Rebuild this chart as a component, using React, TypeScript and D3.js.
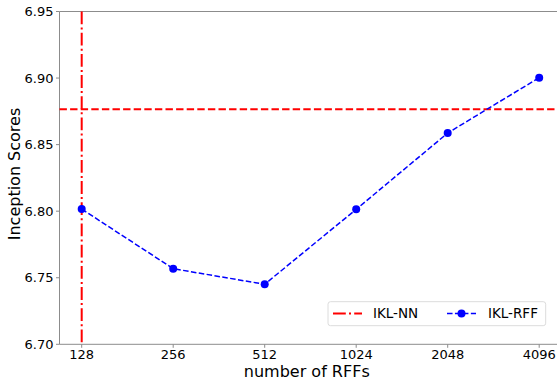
import React from "react";
import * as d3 from "d3";

const categories = ["128", "256", "512", "1024", "2048", "4096"];
const rffScores = [6.8016, 6.7568, 6.7451, 6.8014, 6.8587, 6.9003];
const nnScore = 6.8765;
const yTicks = [6.7, 6.75, 6.8, 6.85, 6.9, 6.95];

const W = 557, H = 381;
const left = 59.5, top = 11.5, bottom = 344.3;
const step = 91.5;
const x0 = 81.7;

export default function App() {
  const x = d3.scaleLinear().domain([0, 5]).range([x0, x0 + 5 * step]);
  const y = d3.scaleLinear().domain([6.7, 6.95]).range([bottom, top]);
  const right = x(5.25);
  const line = d3.line<number>().x((_, i) => x(i)).y((d) => y(d));
  const font = "DejaVu Sans, sans-serif";
  return (
    <svg width={W} height={H} style={{ position: "absolute", left: 0, top: 0, background: "#fff" }}>
      {/* spines */}
      <g stroke="#8c8c8c" strokeWidth={1} fill="none">
        <line x1={left} x2={left} y1={top} y2={bottom} />
        <line x1={left} x2={right} y1={bottom} y2={bottom} />
        <line x1={left} x2={right} y1={top} y2={top} />
        <line x1={right} x2={right} y1={top} y2={bottom} />
      </g>
      {/* y ticks */}
      {yTicks.map((t) => (
        <g key={t}>
          <line x1={left - 3.5} x2={left} y1={y(t)} y2={y(t)} stroke="#8c8c8c" />
          <text x={left - 6} y={y(t)} dy="0.36em" textAnchor="end" fontFamily={font} fontSize={13} fill="#000">
            {t.toFixed(2)}
          </text>
        </g>
      ))}
      {/* x ticks */}
      {categories.map((c, i) => (
        <g key={c}>
          <line x1={x(i)} x2={x(i)} y1={bottom} y2={bottom + 3.5} stroke="#8c8c8c" />
          <text x={x(i)} y={bottom + 15} textAnchor="middle" fontFamily={font} fontSize={13} fill="#000">
            {c}
          </text>
        </g>
      ))}
      <text x={(left + right) / 2 - 4} y={376.5} textAnchor="middle" fontFamily={font} fontSize={16}>
        number of RFFs
      </text>
      <text transform={`translate(19.5,174) rotate(-90)`} textAnchor="middle" fontFamily={font} fontSize={16}>
        Inception Scores
      </text>
      {/* IKL-NN lines */}
      <line x1={x(0)} x2={x(0)} y1={top} y2={bottom} stroke="#ff0000" strokeWidth={2} strokeDasharray="12.8,3.2,2,3.2" />
      <line x1={left} x2={right} y1={y(nnScore)} y2={y(nnScore)} stroke="#ff0000" strokeWidth={2} strokeDasharray="7.4,3.2" />
      {/* IKL-RFF */}
      <path d={line(rffScores) || ""} fill="none" stroke="#0000ff" strokeWidth={1.5} strokeDasharray="5.55,2.4" />
      {rffScores.map((v, i) => (
        <circle key={i} cx={x(i)} cy={y(v)} r={4} fill="#0000ff" />
      ))}
      {/* legend */}
      <g>
        <rect x={328} y={301.7} width={217.7} height={24} rx={2.5} fill="#fff" fillOpacity={0.8} stroke="#dcdcdc" strokeWidth={1} />
        <line x1={333} x2={362} y1={313.5} y2={313.5} stroke="#ff0000" strokeWidth={2} strokeDasharray="12.8,3.2,2,3.2" />
        <text x={373} y={313.5} dy="0.36em" fontFamily={font} fontSize={13.5}>IKL-NN</text>
        <line x1={447} x2={476} y1={313.5} y2={313.5} stroke="#0000ff" strokeWidth={1.5} strokeDasharray="5.55,2.4" />
        <circle cx={461.5} cy={313.5} r={4} fill="#0000ff" />
        <text x={488} y={313.5} dy="0.36em" fontFamily={font} fontSize={13.5}>IKL-RFF</text>
      </g>
    </svg>
  );
}
